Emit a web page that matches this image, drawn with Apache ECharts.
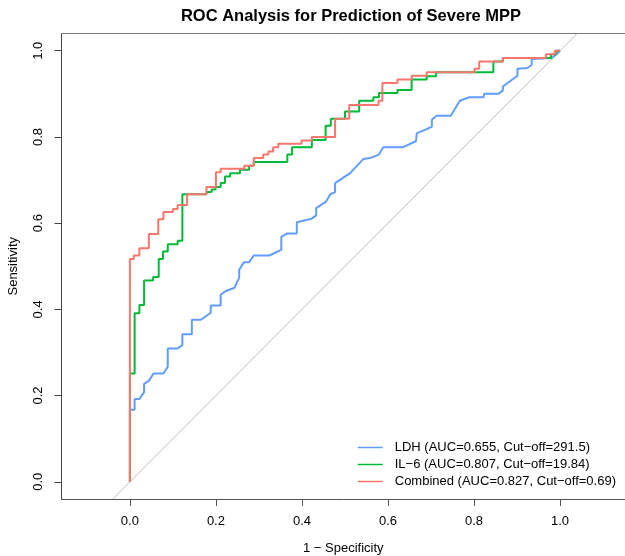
<!DOCTYPE html>
<html>
<head>
<meta charset="utf-8">
<script src="https://cdn.jsdelivr.net/npm/echarts@6/dist/echarts.min.js"></script>
<style>
  html, body { margin: 0; padding: 0; background: #fff; }
  #chart { width: 625px; height: 556px; }
</style>
</head>
<body>
<div id="chart"></div>
<script>
// ROC curves, x = 1 - specificity, y = sensitivity
// step curves: each point is where the curve jumps up
const combFpr = [0, 0, 0.009, 0.022, 0.044, 0.066, 0.078, 0.1, 0.111, 0.133, 0.178, 0.2, 0.211, 0.266, 0.288, 0.31, 0.322, 0.333, 0.345, 0.399, 0.423, 0.477, 0.51, 0.578, 0.587, 0.622, 0.655, 0.69, 0.801, 0.812, 0.867, 0.967, 0.988, 1]
const combTpr = [0, 0.517, 0.525, 0.542, 0.575, 0.609, 0.626, 0.633, 0.642, 0.667, 0.684, 0.718, 0.726, 0.733, 0.751, 0.759, 0.766, 0.776, 0.784, 0.792, 0.8, 0.842, 0.874, 0.884, 0.925, 0.933, 0.942, 0.95, 0.958, 0.975, 0.983, 0.992, 1, 1]

const il6Fpr = [0, 0, 0.011, 0.022, 0.033, 0.054, 0.067, 0.077, 0.088, 0.111, 0.122, 0.178, 0.19, 0.199, 0.211, 0.221, 0.233, 0.256, 0.277, 0.288, 0.366, 0.377, 0.423, 0.455, 0.467, 0.5, 0.533, 0.566, 0.579, 0.622, 0.655, 0.69, 0.712, 0.845, 0.867, 0.979, 0.99, 1]
const il6Tpr = [0, 0.251, 0.391, 0.41, 0.467, 0.475, 0.517, 0.534, 0.551, 0.559, 0.667, 0.672, 0.678, 0.684, 0.693, 0.708, 0.716, 0.724, 0.733, 0.742, 0.759, 0.776, 0.793, 0.826, 0.842, 0.859, 0.884, 0.892, 0.902, 0.909, 0.933, 0.941, 0.95, 0.975, 0.983, 0.992, 1, 1]

// LDH has ties, so plain vertices (diagonal pieces included)
const ldhFpr = [0, 0, 0.011, 0.011, 0.022, 0.033, 0.033, 0.044, 0.055, 0.078, 0.088, 0.088, 0.11, 0.122, 0.122, 0.144, 0.144, 0.165, 0.188, 0.188, 0.211, 0.211, 0.222, 0.243, 0.254, 0.254, 0.265, 0.277, 0.288, 0.324, 0.352, 0.352, 0.366, 0.388, 0.388, 0.422, 0.433, 0.433, 0.456, 0.466, 0.477, 0.477, 0.512, 0.543, 0.558, 0.579, 0.589, 0.634, 0.665, 0.667, 0.69, 0.702, 0.702, 0.713, 0.746, 0.767, 0.789, 0.822, 0.824, 0.857, 0.867, 0.867, 0.901, 0.901, 0.924, 0.934, 0.934, 0.98, 0.99, 1]
const ldhTpr = [0, 0.167, 0.167, 0.192, 0.192, 0.208, 0.227, 0.234, 0.251, 0.251, 0.267, 0.309, 0.309, 0.317, 0.342, 0.342, 0.376, 0.376, 0.392, 0.409, 0.409, 0.434, 0.442, 0.45, 0.473, 0.492, 0.509, 0.509, 0.525, 0.525, 0.538, 0.568, 0.576, 0.576, 0.602, 0.61, 0.618, 0.635, 0.65, 0.667, 0.672, 0.693, 0.716, 0.749, 0.751, 0.759, 0.776, 0.776, 0.79, 0.809, 0.818, 0.824, 0.84, 0.849, 0.849, 0.884, 0.892, 0.892, 0.9, 0.9, 0.908, 0.917, 0.942, 0.958, 0.96, 0.967, 0.981, 0.983, 0.99, 1]

// chance line
const diagX = [-0.04, 1.04]
const diagY = [-0.04, 1.04]

const seriesNames = ['LDH (AUC=0.655, Cut\u2212off=291.5)', 'IL\u22126 (AUC=0.807, Cut\u2212off=19.84)', 'Combined (AUC=0.827, Cut\u2212off=0.69)']
const tickValues = [0, 0.2, 0.4, 0.6, 0.8, 1.0]

function zip(xs, ys) {
  return xs.map((x, i) => [x, ys[i]])
}

var chart = echarts.init(document.getElementById('chart'), null, { renderer: 'canvas' })
const font = 'Liberation Sans, Arial, Helvetica, sans-serif'

chart.setOption({
  animation: false,
  backgroundColor: '#fff',
  textStyle: { fontFamily: font },
  title: {
    text: 'ROC Analysis for Prediction of Severe MPP',
    left: 346,
    textAlign: 'center',
    top: 3,
    textStyle: { fontSize: 16.5, fontWeight: 'bold', color: '#000', fontFamily: font }
  },
  legend: {
    orient: 'vertical',
    left: 352,
    top: 436,
    itemWidth: 25,
    itemHeight: 14,
    itemGap: 4,
    data: seriesNames,
    itemStyle: { opacity: 0 },
    lineStyle: { width: 1.5 },
    textStyle: { fontSize: 13, color: '#000', fontFamily: font, padding: [0, 0, 0, 7] }
  },
  grid: { left: 61.5, right: 0, top: 33.5, bottom: 57, outerBoundsMode: 'none', containLabel: false },
  xAxis: [
    {
      type: 'value',
      min: -0.159,
      max: 1.151,
      name: '1 \u2212 Specificity',
      nameLocation: 'middle',
      nameGap: 43,
      nameTextStyle: { fontSize: 13, color: '#000', fontFamily: font },
      splitLine: { show: false },
      axisLine: { show: true, onZero: false, lineStyle: { color: '#555', width: 1 } },
      axisTick: { show: true, length: 7, customValues: tickValues, lineStyle: { color: '#555' } },
      axisLabel: {
        customValues: tickValues, margin: 16, fontSize: 13, color: '#000', fontFamily: font,
        formatter: v => v.toFixed(1)
      }
    },
    {
      type: 'value',
      position: 'top',
      min: -0.159,
      max: 1.151,
      splitLine: { show: false },
      axisLine: { show: true, onZero: false, lineStyle: { color: '#777', width: 1 } },
      axisTick: { show: false },
      axisLabel: { show: false }
    }
  ],
  yAxis: {
    type: 'value',
    min: -0.04,
    max: 1.04,
    name: 'Sensitivity',
    nameLocation: 'middle',
    nameGap: 42,
    nameRotate: 90,
    nameTextStyle: { fontSize: 13, color: '#000', fontFamily: font },
    splitLine: { show: false },
    axisLine: { show: true, onZero: false, lineStyle: { color: '#444', width: 1 } },
    axisTick: { show: true, length: 7, customValues: tickValues, lineStyle: { color: '#444' } },
    axisLabel: {
      customValues: tickValues, rotate: 90, margin: 17, fontSize: 13, color: '#000', fontFamily: font,
      formatter: v => v.toFixed(1)
    }
  },
  series: [
    {
      name: 'diag',
      type: 'line',
      data: zip(diagX, diagY),
      symbol: 'none',
      silent: true,
      lineStyle: { color: '#bebebe', width: 1 },
      z: 1
    },
    {
      name: seriesNames[0],
      type: 'line',
      data: zip(ldhFpr, ldhTpr),
      symbol: 'none',
      color: '#619CFF',
      lineStyle: { width: 2 },
      z: 2
    },
    {
      name: seriesNames[1],
      type: 'line',
      step: 'end',
      data: zip(il6Fpr, il6Tpr),
      symbol: 'none',
      color: '#00BA38',
      lineStyle: { width: 2 },
      z: 3
    },
    {
      name: seriesNames[2],
      type: 'line',
      step: 'end',
      data: zip(combFpr, combTpr),
      symbol: 'none',
      color: '#F8766D',
      lineStyle: { width: 2 },
      z: 4
    }
  ]
})
</script>
</body>
</html>
